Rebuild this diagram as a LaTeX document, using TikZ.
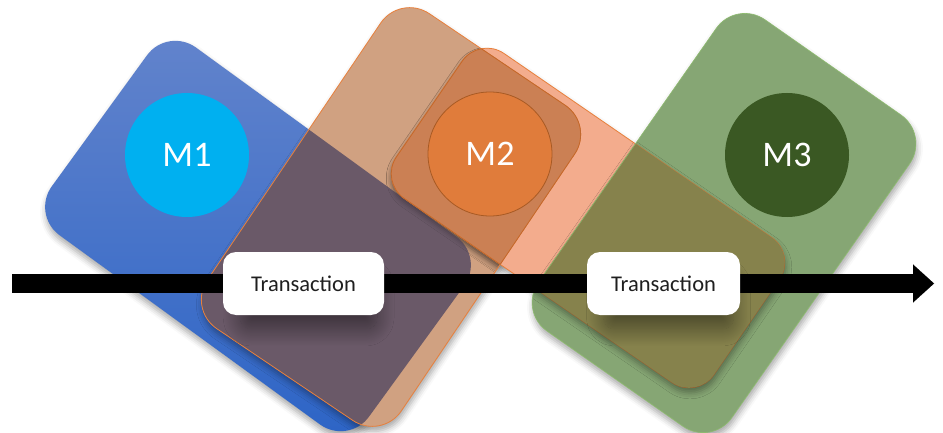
\documentclass[tikz,border=0pt]{standalone}
\usepackage{fontspec}
\setmainfont{Carlito}
\usetikzlibrary{arrows.meta,shadows.blur}

\definecolor{blueTop}{HTML}{6384CC}
\definecolor{blueBot}{HTML}{2C64C6}
\definecolor{mOneFill}{HTML}{00B0F0}
\definecolor{tanFill}{HTML}{D0A181}
\definecolor{salmonFill}{HTML}{F3AC8D}
\definecolor{orangeLine}{HTML}{E8803C}
\definecolor{coreFill}{HTML}{CB8054}
\definecolor{coreLine}{HTML}{C0682E}
\definecolor{mTwoFill}{HTML}{E07C3B}
\definecolor{mTwoLine}{HTML}{A85A24}
\definecolor{duskFill}{HTML}{6A5968}
\definecolor{greenFill}{HTML}{86A674}
\definecolor{greenLine}{HTML}{8DBB6E}
\definecolor{oliveFill}{HTML}{86824C}
\definecolor{mThreeFill}{HTML}{3A5823}
\definecolor{txtGray}{HTML}{1F1F1F}

\tikzset{
  card/.style={rounded corners=35pt},
  slimcard/.style={rounded corners=30pt},
  cardshadow/.style={blur shadow={shadow xshift=1pt, shadow yshift=-5pt,
      shadow blur radius=6pt, shadow opacity=35}},
  badge/.style={circle, minimum size=124pt, inner sep=0pt, text=white,
      font=\fontsize{36}{40}\selectfont},
  txbox/.style={rectangle, rounded corners=13pt, fill=white, minimum height=63pt,
      inner sep=0pt, text=txtGray, font=\fontsize{22.5}{27}\selectfont,
      blur shadow={shadow xshift=6pt, shadow yshift=-22pt, shadow blur radius=20pt,
        shadow blur steps=24, shadow opacity=45, shadow scale=0.85}},
  timeline/.style={line width=19pt, draw=black,
      -{Triangle[length=21pt, width=38pt, line width=0.01pt]}},
}

\begin{document}
\begin{tikzpicture}[x=1pt, y=-1pt]
\useasboundingbox (0,0) rectangle (943,433);

% corner points of the four tilted cards
\begin{scope}[shift={(258,236)}, rotate=54]
  \coordinate (b1) at (-116,-196); \coordinate (b2) at (116,-196);
  \coordinate (b3) at (116,196);   \coordinate (b4) at (-116,196);
\end{scope}
\begin{scope}[shift={(391,217)}, rotate=56]
  \coordinate (t1) at (-190,-117); \coordinate (t2) at (190,-117);
  \coordinate (t3) at (190,117);   \coordinate (t4) at (-190,117);
\end{scope}
\begin{scope}[shift={(588,218)}, rotate=55.5]
  \coordinate (s1) at (-88,-192.5); \coordinate (s2) at (88,-192.5);
  \coordinate (s3) at (88,192.5);   \coordinate (s4) at (-88,192.5);
\end{scope}
\begin{scope}[shift={(724,223)}, rotate=55]
  \coordinate (g1) at (-190,-118); \coordinate (g2) at (190,-118);
  \coordinate (g3) at (190,118);   \coordinate (g4) at (-190,118);
\end{scope}

\def\bluecard{(b1) -- (b2) -- (b3) -- (b4) -- cycle}
\def\tancard{(t1) -- (t2) -- (t3) -- (t4) -- cycle}
\def\salmoncard{(s1) -- (s2) -- (s3) -- (s4) -- cycle}
\def\greencard{(g1) -- (g2) -- (g3) -- (g4) -- cycle}

% cards
\path[card, cardshadow, top color=blueTop, bottom color=blueBot] \bluecard;
\fill[card, cardshadow, tanFill] \tancard;
\fill[slimcard, cardshadow, salmonFill] \salmoncard;
\fill[card, cardshadow, greenFill] \greencard;

% overlaps of neighbouring cards
\begin{scope}
  \clip[card] \bluecard;
  \fill[card, duskFill] \tancard;
\end{scope}
\begin{scope}
  \clip[card] \tancard;
  \fill[slimcard, coreFill, blur shadow={shadow xshift=0pt, shadow yshift=-4pt,
      shadow blur radius=5pt, shadow opacity=30}] \salmoncard;
\end{scope}

% outlines
\draw[card, orangeLine, line width=0.8pt] \tancard;
\draw[slimcard, orangeLine, line width=0.8pt] \salmoncard;
\begin{scope}
  \clip[card] \tancard;
  \draw[slimcard, coreLine, line width=0.8pt] \salmoncard;
\end{scope}
\begin{scope}
  \clip[slimcard] \salmoncard;
  \draw[card, coreLine, line width=0.8pt] \tancard;
\end{scope}

\begin{scope}
  \clip[card] \greencard;
  \fill[slimcard, oliveFill, cardshadow] \salmoncard;
\end{scope}
\draw[card, greenLine, line width=0.6pt] \greencard;

% member badges
\node[badge, fill=mOneFill] (m1) at (187,155) {M1};
\node[badge, fill=mTwoFill, draw=mTwoLine, line width=0.8pt] (m2) at (490,154) {M2};
\node[badge, fill=mThreeFill] (m3) at (787,155) {M3};

% time line
\coordinate (tStart) at (12,283.5);
\coordinate (tEnd) at (934,283.5);
\draw[timeline] (tStart) -- (tEnd);

% transaction labels
\node[txbox, minimum width=161pt] (tx1) at (303.5,283.5) {Transaction};
\node[txbox, minimum width=153pt] (tx2) at (663.5,283.5) {Transaction};
\end{tikzpicture}
\end{document}
